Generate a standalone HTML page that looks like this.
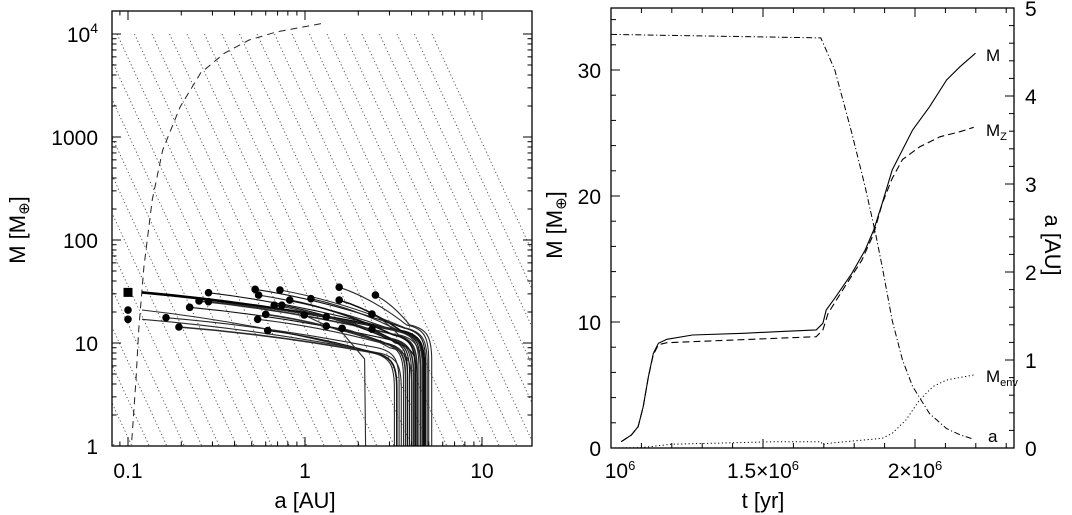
<!DOCTYPE html>
<html><head><meta charset="utf-8">
<style>
html,body{margin:0;padding:0;background:#fff;}
svg{display:block;font-family:"Liberation Sans","DejaVu Sans",sans-serif;}
</style></head>
<body>
<svg id="fig" width="1072" height="515" viewBox="0 0 1072 515" xmlns="http://www.w3.org/2000/svg">
<defs>
<clipPath id="clipL"><rect x="112" y="11" width="420" height="435"/></clipPath>
<clipPath id="clipH"><rect x="112" y="34" width="420" height="412"/></clipPath>
<clipPath id="clipR"><rect x="611" y="8" width="403" height="440"/></clipPath>
</defs>
<g id="left"></g>
<g id="right"></g>
</svg>
<script>
// ---------- LEFT PANEL DATA ----------
const xTickLabelsL = ["0.1","1","10"];
const xTickValsL = [0.1,1,10];
const yTickLabelsL = ["1","10","100","1000"];
const yTickValsL = [1,10,100,1000];
const dashA = [0.105,0.111,0.115,0.123,0.137,0.157,0.197,0.257,0.352,0.483,0.691,1.29];
const dashM = [1.14,4.4,13.4,54.7,244,748,1955,4180,6540,8750,10470,12790];
const trackA0 = [0.12,0.12,0.12,0.285,0.252,0.285,0.223,0.164,0.194,0.523,0.547,0.722,0.82,1.08,0.67,0.74,0.60,0.54,0.616,0.99,1.32,1.32,1.62,1.56,1.56,2.5,2.39,2.39];
const trackM0 = [31,20.9,17,30.8,25.6,25.2,22.2,17.6,14.3,33.2,29.2,32.7,26.1,26.9,23.3,23.3,19.0,17.0,13.2,18.7,18.0,14.6,13.9,34.8,26.1,29.2,19.1,13.6];
const trackAB = [4.7,3.2,3.5,4.5,4.3,4.6,3.8,3.4,3.3,4.8,4.4,4.9,4.2,4.6,4.0,3.9,3.7,3.6,3.3,2.2,4.1,3.8,4.0,5.0,4.7,5.2,4.5,4.3];
const trackMK = [13,8,8,13,12,13,11,9,8,14,13,14,12,13,11,11,10,10,8,9,11,10,9,15,13,15,12,10];
const dotA = [0.1,0.1,0.285,0.252,0.285,0.223,0.164,0.194,0.523,0.547,0.722,0.82,1.08,0.67,0.74,0.60,0.54,0.616,0.99,1.32,1.32,1.62,1.56,1.56,2.5,2.39,2.39];
const dotM = [20.9,17,30.8,25.6,25.2,22.2,17.6,14.3,33.2,29.2,32.7,26.1,26.9,23.3,23.3,19.0,17.0,13.2,18.7,18.0,14.6,13.9,34.8,26.1,29.2,19.1,13.6];
const squareA = [0.1];
const squareM = [31];

// ---------- RIGHT PANEL DATA ----------
const xTickLabelsR = ["10<tspan dy='-8' font-size='13'>6</tspan>","1.5×10<tspan dy='-8' font-size='13'>6</tspan>","2×10<tspan dy='-8' font-size='13'>6</tspan>"];
const xTickValsR = [1.0,1.5,2.0];
const yTickValsR = [0,10,20,30];
const aTickVals = [0,1,2,3,4,5];
const tM = [1.0335,1.067,1.089,1.106,1.123,1.139,1.156,1.184,1.268,1.435,1.546,1.675,1.697,1.708,1.736,1.792,1.836,1.864,1.892,1.925,1.992,2.048,2.104,2.148,2.199];
const valM = [0.5,1.03,1.69,3.28,5.66,7.51,8.31,8.63,8.97,9.10,9.23,9.37,9.9,10.95,11.88,13.86,15.71,17.3,19.42,22.06,25.24,27.09,29.21,30.26,31.33];
const tMz = [1.0335,1.067,1.089,1.106,1.123,1.139,1.156,1.184,1.675,1.697,1.714,1.769,1.825,1.864,1.892,1.925,1.959,2.015,2.082,2.148,2.193];
const valMz = [0.5,1.03,1.69,3.28,5.66,7.4,8.2,8.36,8.83,9.37,10.69,12.8,14.9,17.0,19.4,21.4,22.9,23.9,24.7,25.1,25.45];
const tEnv = [1.0,1.1,1.2,1.546,1.69,1.697,1.714,1.892,1.925,1.97,2.015,2.059,2.104,2.193];
const valEnv = [0,0.03,0.3,0.5,0.5,0.24,0.37,0.77,1.16,2.22,3.81,4.87,5.4,5.79];
const tA = [1.0,1.69,1.736,1.792,1.836,1.87,1.892,1.925,1.959,1.992,2.048,2.104,2.148,2.193];
const valA = [4.70,4.66,4.30,3.58,2.97,2.44,2.06,1.45,1.0,0.70,0.39,0.22,0.15,0.10];

const NS="http://www.w3.org/2000/svg";
function mk(parent,tag,attrs){const e=document.createElementNS(NS,tag);for(const k in attrs)e.setAttribute(k,attrs[k]);parent.appendChild(e);return e;}

const xL=a=>305+177*Math.log10(a);
const yL=m=>446-103*Math.log10(m);
const L=document.getElementById('left');

const hatch=mk(L,'g',{'clip-path':'url(#clipH)',stroke:'#555','stroke-width':0.9,'stroke-dasharray':'1.3 2.4',fill:'none'});


for(let k=-25;k<=18;k++){const x0=117+17.5*k;mk(hatch,'line',{x1:x0,y1:34,x2:x0+412/2.17,y2:446});}

const plotL=mk(L,'g',{'clip-path':'url(#clipL)'});
let d='';dashA.forEach((a,i)=>{d+=(i?'L':'M')+xL(a).toFixed(1)+' '+yL(dashM[i]).toFixed(1);});
const dc=mk(plotL,'path',{d:d,fill:'none',stroke:'#222','stroke-width':1,'stroke-dasharray':'7 5'});



trackA0.forEach((a0,i)=>{
  const x0=xL(a0),y0=yL(trackM0[i]);
  const aB=trackAB[i],mK=trackMK[i];
  const x1=xL(aB*0.75),y1=yL(mK);
  const xB=xL(aB);
  const cx=(x0+x1)/2,cy=y0+(y1-y0)*0.3;
  let p;
  if(aB<2.5){
    p='M'+x0.toFixed(1)+' '+y0.toFixed(1)+' Q'+cx.toFixed(1)+' '+cy.toFixed(1)+' '+xL(1.6).toFixed(1)+' '+yL(13).toFixed(1)+' L'+(xB-1).toFixed(1)+' '+yL(7).toFixed(1)+' L'+xB.toFixed(1)+' 446';
  } else {
    p='M'+x0.toFixed(1)+' '+y0.toFixed(1)+' Q'+cx.toFixed(1)+' '+cy.toFixed(1)+' '+x1.toFixed(1)+' '+y1.toFixed(1);
    p+=' C'+xL(aB*0.95).toFixed(1)+' '+yL(mK*0.92).toFixed(1)+' '+xB.toFixed(1)+' '+yL(mK*0.75).toFixed(1)+' '+xB.toFixed(1)+' '+yL(mK*0.45).toFixed(1)+' L'+xB.toFixed(1)+' 446';
  }
  const t=mk(plotL,'path',{d:p,fill:'none',stroke:i===0?'#000':(i%3===0?'#111':'#2a2a2a'),'stroke-width':i===0?2.6:(i%4===0?1.6:1.1)});
  
  
});
dotA.forEach((a,i)=>{
  const c=mk(L,'circle',{cx:xL(a),cy:yL(dotM[i]),r:3.8,fill:'#000'});
  
  
});
squareA.forEach((a,i)=>{
  const s=mk(L,'rect',{x:xL(a)-4.5,y:yL(squareM[i])-4.5,width:9,height:9,fill:'#000'});
  
  
});
const fL=mk(L,'rect',{x:112,y:11,width:420,height:435,fill:'none',stroke:'#000','stroke-width':1.3});


const tkL=mk(L,'g',{stroke:'#000','stroke-width':1});
for(let e=-2;e<=1;e++)for(let m=1;m<10;m++){const v=m*Math.pow(10,e);const x=xL(v);if(x<112||x>532)continue;const len=m===1?9:4.5;
  mk(tkL,'line',{x1:x,y1:446,x2:x,y2:446-len});mk(tkL,'line',{x1:x,y1:11,x2:x,y2:11+len});}
for(let e=0;e<=4;e++)for(let m=1;m<10;m++){const v=m*Math.pow(10,e);const y=yL(v);if(y<11||y>446)continue;const len=m===1?9:4.5;
  mk(tkL,'line',{x1:112,y1:y,x2:112+len,y2:y});mk(tkL,'line',{x1:532,y1:y,x2:532-len,y2:y});}
xTickValsL.forEach((v,i)=>{const t=mk(L,'text',{x:xL(v),y:478,'font-size':21,'text-anchor':'middle'});t.textContent=xTickLabelsL[i];
  });
yTickValsL.forEach((v,i)=>{const t=mk(L,'text',{x:98,y:yL(v)+8,'font-size':21,'text-anchor':'end'});t.textContent=yTickLabelsL[i];
  });
{const t=mk(L,'text',{x:98,y:yL(10000)+8,'font-size':21,'text-anchor':'end'});t.innerHTML="10<tspan dy='-9' font-size='14'>4</tspan>";
 }
{const t=mk(L,'text',{x:305,y:508,'font-size':22,'text-anchor':'middle'});t.textContent='a [AU]';
 }
{const t=mk(L,'text',{x:0,y:0,'font-size':22,'text-anchor':'middle',transform:'translate(25,230) rotate(-90)'});t.innerHTML="M [M<tspan dy='4' font-size='15'>⊕</tspan><tspan dy='-4'>]</tspan>";
 }

const xR=t=>611+(t-1.0)*304;
const yR=m=>448-12.6*m;
const yA=a=>448-88*a;
const R=document.getElementById('right');
const plotR=mk(R,'g',{'clip-path':'url(#clipR)',fill:'none',stroke:'#000'});
function line(ts,vs,ys,attrs,name){let d='';ts.forEach((t,i)=>{d+=(i?'L':'M')+xR(t).toFixed(1)+' '+ys(vs[i]).toFixed(1);});
  const p=mk(plotR,'path',Object.assign({d:d},attrs));}
line(tM,valM,yR,{'stroke-width':1.1},'total-mass-line');
line(tMz,valMz,yR,{'stroke-width':1.1,'stroke-dasharray':'7 4'},'core-mass-line');
line(tEnv,valEnv,yR,{'stroke-width':1,'stroke-dasharray':'1.2 2.5'},'envelope-mass-line');
line(tA,valA,yA,{'stroke-width':1,'stroke-dasharray':'6 2.5 1.2 2.5'},'semimajor-axis-line');
const fR=mk(R,'rect',{x:611,y:8,width:403,height:440,fill:'none',stroke:'#000','stroke-width':1.3});


const tkR=mk(R,'g',{stroke:'#000','stroke-width':1});
for(let k=0;k<=13;k++){const t=1.0+k*0.1;const x=xR(t);if(x>1014)break;const len=(k%5===0)?9:5;
  mk(tkR,'line',{x1:x,y1:448,x2:x,y2:448-len});mk(tkR,'line',{x1:x,y1:8,x2:x,y2:8+len});}
for(let m=0;m<=34;m+=2){const y=yR(m);const len=(m%10===0)?9:5;mk(tkR,'line',{x1:611,y1:y,x2:611+len,y2:y});}
for(let k=0;k<=25;k++){const a=k*0.2;const y=yA(a);const len=(k%5===0)?9:5;mk(tkR,'line',{x1:1014,y1:y,x2:1014-len,y2:y});}
xTickValsR.forEach((v,i)=>{const t=mk(R,'text',{x:xR(v)+(i===0?9:0),y:478,'font-size':21,'text-anchor':'middle'});t.innerHTML=xTickLabelsR[i];
  });
yTickValsR.forEach(v=>{const t=mk(R,'text',{x:601,y:yR(v)+8,'font-size':21,'text-anchor':'end'});t.textContent=String(v);
  });
aTickVals.forEach(v=>{const t=mk(R,'text',{x:1025,y:yA(v)+8,'font-size':21,'text-anchor':'start'});t.textContent=String(v);
  });
{const t=mk(R,'text',{x:763,y:508,'font-size':22,'text-anchor':'middle'});t.textContent='t [yr]';
 }
{const t=mk(R,'text',{x:0,y:0,'font-size':22,'text-anchor':'middle',transform:'translate(562,225) rotate(-90)'});t.innerHTML="M [M<tspan dy='4' font-size='15'>⊕</tspan><tspan dy='-4'>]</tspan>";
 }
{const t=mk(R,'text',{x:0,y:0,'font-size':22,'text-anchor':'middle',transform:'translate(1045,245) rotate(90)'});t.textContent='a [AU]';
 }
const labs=[["M",986,61,''],["M",986,136,'Z'],["M",986,382,'env'],["a",988,442,'']];
labs.forEach(l=>{const t=mk(R,'text',{x:l[1],y:l[2],'font-size':17});t.innerHTML=l[0]+(l[3]?"<tspan dy='4' font-size='11'>"+l[3]+"</tspan>":"");
  });
</script>
</body></html>
